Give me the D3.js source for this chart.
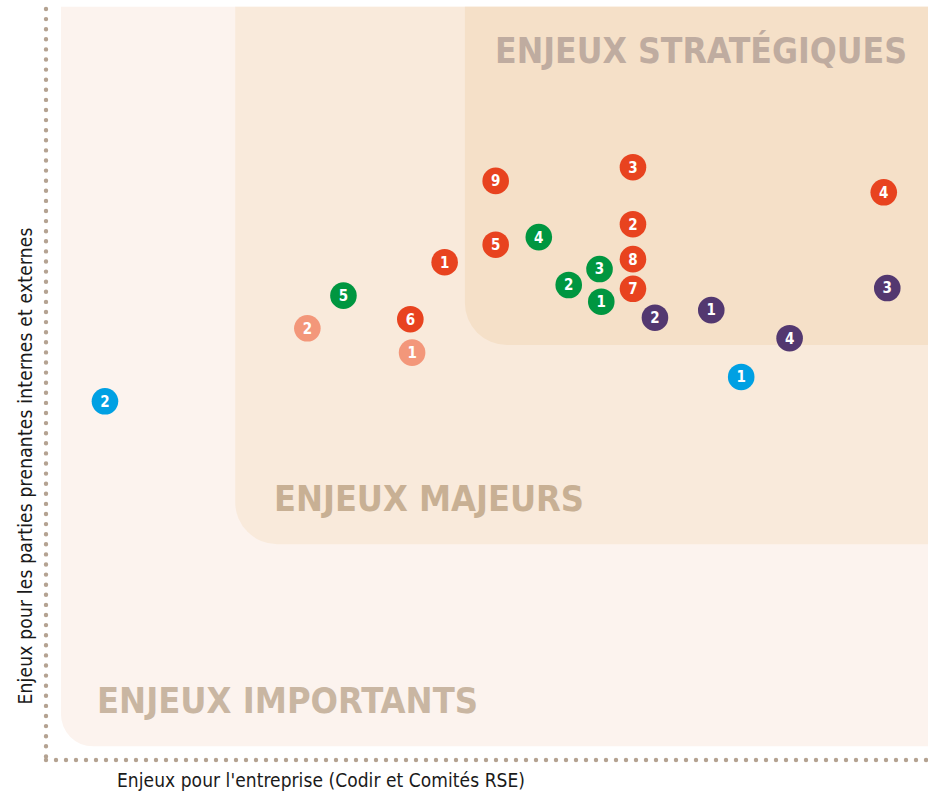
<!DOCTYPE html>
<html>
<head>
<meta charset="utf-8">
<script src="https://cdn.jsdelivr.net/npm/d3@7"></script>
<style>
  body { margin: 0; background: #fff; }
  svg { display: block; }
</style>
</head>
<body>
<div id="chart"></div>
<script>
// zones (x start, y start in score units 0-100)
var zoneNames = ["ENJEUX IMPORTANTS", "ENJEUX MAJEURS", "ENJEUX STRATÉGIQUES"];
var zoneX0 = [1.7, 21.5, 47.6];
var zoneY0 = [1.8, 28.4, 54.6];
var zoneTop = 99.1;

// series of issues
var seriesNames = ["rouge", "vert", "violet", "bleu", "saumon"];
var rougeLabels = ["9", "3", "4", "2", "5", "1", "8", "7", "6"];
var rougeX = [51.1, 66.7, 95.2, 66.7, 51.1, 45.3, 66.7, 66.7, 41.4];
var rougeY = [76.2, 78.0, 74.7, 70.5, 67.8, 65.5, 65.9, 62.0, 58.0];
var vertLabels = ["4", "3", "2", "1", "5"];
var vertX = [56.0, 62.9, 59.4, 63.1, 33.8];
var vertY = [68.8, 64.6, 62.5, 60.3, 61.1];
var violetLabels = ["1", "2", "3", "4"];
var violetX = [75.6, 69.2, 95.6, 84.5];
var violetY = [59.2, 58.2, 62.1, 55.5];
var bleuLabels = ["1", "2"];
var bleuX = [79.0, 6.7];
var bleuY = [50.4, 47.2];
var saumonLabels = ["2", "1"];
var saumonX = [29.7, 41.6];
var saumonY = [56.8, 53.6];

var xLabel = "Enjeux pour l'entreprise (Codir et Comités RSE)";
var yLabel = "Enjeux pour les parties prenantes internes et externes";

var width = 928, height = 797;
var colors = {
  rouge: "#e8431f", vert: "#009640", violet: "#533870", bleu: "#00a0e3", saumon: "#f3977a"
};
var zoneFill = ["#fcf3ee", "#f9eadb", "#f5e0c8"];
var zoneText = ["#c9b6a2", "#c8b094", "#bfaca0"];

var x = d3.scaleLinear().domain([0, 100]).range([46, 926]);
var y = d3.scaleLinear().domain([0, 100]).range([760, 0]);

var svg = d3.select("#chart").append("svg")
    .attr("width", width)
    .attr("height", height);

// rounded zones: only bottom-left corner rounded, the rest runs off the right
function zonePath(x0, y0, r) {
  var left = x(x0), bottom = y(y0), top = y(zoneTop), right = width + 20;
  return "M" + left + "," + top +
    "L" + right + "," + top +
    "L" + right + "," + bottom +
    "L" + (left + r) + "," + bottom +
    "A" + r + "," + r + " 0 0 1 " + left + "," + (bottom - r) + "Z";
}
var radii = [32, 42, 42];
svg.selectAll("path.zone")
  .data(zoneNames)
  .enter().append("path")
    .attr("class", "zone")
    .attr("d", function (d, i) { return zonePath(zoneX0[i], zoneY0[i], radii[i]); })
    .attr("fill", function (d, i) { return zoneFill[i]; });

// zone titles
var titlePos = [[97, 713], [274, 511], [495, 63]];
var titleLen = [381, 310, 412];
svg.selectAll("text.zone-title")
  .data(zoneNames)
  .enter().append("text")
    .attr("class", "zone-title")
    .attr("x", function (d, i) { return titlePos[i][0]; })
    .attr("y", function (d, i) { return titlePos[i][1]; })
    .attr("fill", function (d, i) { return zoneText[i]; })
    .attr("textLength", function (d, i) { return titleLen[i]; })
    .attr("lengthAdjust", "spacingAndGlyphs")
    .style("font-family", "'DejaVu Sans Condensed', 'DejaVu Sans', sans-serif")
    .style("font-weight", "bold")
    .style("font-size", "35px")
    .text(function (d) { return d; });

// dotted axes
svg.append("line")
  .attr("x1", 46).attr("x2", 46)
  .attr("y1", 9).attr("y2", 760)
  .attr("stroke", "#b4a291")
  .attr("stroke-width", 4.4)
  .attr("stroke-linecap", "round")
  .attr("stroke-dasharray", "0 10.1");
svg.append("line")
  .attr("x1", 46).attr("x2", 930)
  .attr("y1", 760).attr("y2", 760)
  .attr("stroke", "#b4a291")
  .attr("stroke-width", 4.4)
  .attr("stroke-linecap", "round")
  .attr("stroke-dasharray", "0 10");

// axis titles
svg.append("text")
  .attr("x", 321).attr("y", 787)
  .style("text-anchor", "middle")
  .style("font-family", "'DejaVu Sans Condensed', sans-serif")
  .style("font-size", "19px")
  .attr("textLength", 408)
  .attr("fill", "#1a1a1a")
  .text(xLabel);
svg.append("text")
  .attr("transform", "translate(32,466) rotate(-90)")
  .style("text-anchor", "middle")
  .style("font-family", "'DejaVu Sans Condensed', sans-serif")
  .style("font-size", "19px")
  .attr("textLength", 477)
  .attr("fill", "#1a1a1a")
  .text(yLabel);

// points
var table = {
  rouge: [rougeLabels, rougeX, rougeY],
  vert: [vertLabels, vertX, vertY],
  violet: [violetLabels, violetX, violetY],
  bleu: [bleuLabels, bleuX, bleuY],
  saumon: [saumonLabels, saumonX, saumonY]
};
var points = [];
seriesNames.forEach(function (s) {
  var t = table[s];
  t[0].forEach(function (lab, i) {
    points.push({ serie: s, label: lab, x: t[1][i], y: t[2][i] });
  });
});

var g = svg.selectAll("g.pt")
  .data(points)
  .enter().append("g")
    .attr("class", "pt")
    .attr("transform", function (d) { return "translate(" + x(d.x) + "," + y(d.y) + ")"; });
g.append("circle")
  .attr("r", 13.3)
  .attr("fill", function (d) { return colors[d.serie]; });
g.append("text")
  .attr("dy", "0.36em")
  .style("text-anchor", "middle")
  .style("font-family", "'DejaVu Sans Condensed', sans-serif")
  .style("font-weight", "bold")
  .style("font-size", "15px")
  .attr("fill", "#fff")
  .text(function (d) { return d.label; });
</script>
</body>
</html>
